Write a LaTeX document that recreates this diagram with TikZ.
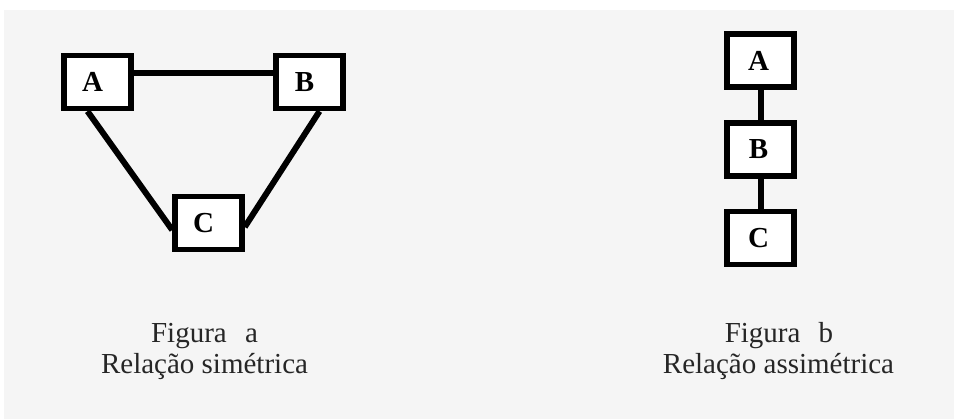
\documentclass[tikz,border=0pt]{standalone}
\usepackage{fontspec}
\setmainfont{Liberation Serif}
\definecolor{bggray}{RGB}{245,245,245}
\begin{document}
\begin{tikzpicture}[x=1pt,y=-1pt,
  box/.style={draw=black,line width=5.5pt,fill=white,minimum width=67pt,minimum height=53pt,inner sep=0pt},
  lbl/.style={font=\fontsize{29}{29}\selectfont\bfseries},
  conn/.style={draw=black,line width=6pt},
  captxt/.style={font=\fontsize{29}{31}\selectfont,anchor=base,inner sep=0pt,text=black!85}]
\useasboundingbox (0,0) rectangle (954,419);
\fill[white] (0,0) rectangle (954,419);
\fill[bggray] (4,10) rectangle (954,419);
% Figure a
\node[box,label={[lbl,xshift=-5pt]center:A}] (A) at (97.5,82) {};
\node[box,label={[lbl,xshift=-5pt]center:B}] (B) at (309.5,82) {};
\node[box,label={[lbl,xshift=-5pt]center:C}] (C) at (208.5,223) {};
\draw[conn] ([yshift=9pt]A.east) -- ([yshift=9pt]B.west);
\draw[conn] ([xshift=-10pt]A.south) -- ([yshift=-7pt]C.west);
\draw[conn] ([xshift=10pt]B.south) -- ([yshift=-4pt]C.east);
% Figure b
\node[box,label={[lbl,xshift=-2pt]center:A}] (A2) at (760.5,60.5) {};
\node[box,label={[lbl,xshift=-2pt]center:B}] (B2) at (760.5,149.5) {};
\node[box,label={[lbl,xshift=-2pt]center:C}] (C2) at (760.5,238) {};
\draw[conn] (A2.south) -- (B2.north);
\draw[conn] (B2.south) -- (C2.north);
% Captions
\node[captxt] (fa) at (204.5,343) {Figura\hspace{11pt} a};
\node[captxt] (ra) at (204.5,374) {Relação simétrica};
\node[captxt] (fb) at (779,343) {Figura\hspace{11pt} b};
\node[captxt] (rb) at (778.5,374) {Relação assimétrica};
\end{tikzpicture}
\end{document}
